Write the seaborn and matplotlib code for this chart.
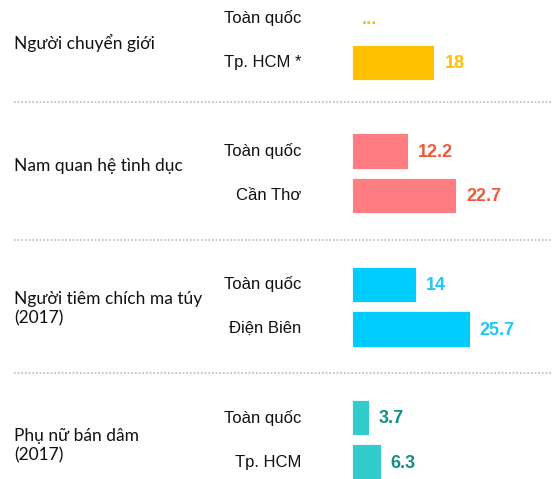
import matplotlib
matplotlib.use("Agg")
import matplotlib.pyplot as plt
import seaborn as sns
import pandas as pd
import numpy as np

groups = ["Người chuyển giới", "Nam quan hệ tình dục",
          "Người tiêm chích ma túy\n(2017)", "Phụ nữ bán dâm\n(2017)"]
sub_labels = [["Toàn quốc", "Tp. HCM *"], ["Toàn quốc", "Cần Thơ"],
              ["Toàn quốc", "Điện Biên"], ["Toàn quốc", "Tp. HCM"]]
values = [[np.nan, 18.0], [12.2, 22.7], [14.0, 25.7], [3.7, 6.3]]
value_texts = [["...", "18"], ["12.2", "22.7"], ["14", "25.7"], ["3.7", "6.3"]]
bar_colors = ["#FFC000", "#FF7C80", "#00CCFF", "#33CCCC"]
text_colors = ["#FFC000", "#F05A3C", "#1CC8F8", "#128F85"]
label_offsets = [0.56, 0.33, 0.55, 0.64]

# Build long table with spacer slots between groups
rows = []
order = []
for gi in range(len(groups)):
    for si in range(2):
        key = f"g{gi}s{si}"
        rows.append(dict(key=key, value=values[gi][si], grp=gi))
        order.append(key)
    if gi < len(groups) - 1:
        order.append(f"gap{gi}")
df = pd.DataFrame(rows)

W, H = 552, 479
fig = plt.figure(figsize=(W / 100, H / 100), dpi=100)
ax = fig.add_axes([0, 0, 1, 1])

palette = {f"g{gi}s{si}": bar_colors[gi] for gi in range(4) for si in range(2)}
sns.barplot(data=df, y="key", x="value", hue="key", order=order, palette=palette,
            orient="h", width=0.8, legend=False, ax=ax, errorbar=None,
            saturation=1, edgecolor="white", linewidth=0.6)

px_per_unit = 4.58
x0 = 352
ax.set_xlim(-x0 / px_per_unit, (W - x0) / px_per_unit)
slot_px = 44.4
ax.set_ylim(10 + (H - 462) / slot_px, -18 / slot_px)
ax.axis("off")

def px2x(p):
    return (p - x0) / px_per_unit

for gi in range(4):
    base = gi * 3
    for si in range(2):
        y = base + si
        v = values[gi][si]
        ax.text(px2x(301), y, sub_labels[gi][si], ha="right", va="center",
                fontsize=12, family=["Liberation Sans", "DejaVu Sans"],
                color="#111111")
        xv = 0 if np.isnan(v) else v
        ax.text(xv + 10 / px_per_unit, y + 0.03, value_texts[gi][si], ha="left",
                va="center", fontsize=13, fontweight="bold",
                family=["Liberation Sans", "DejaVu Sans"], color=text_colors[gi])
    ax.text(px2x(14), base + label_offsets[gi], groups[gi], ha="left", va="center",
            fontsize=12.5, family=["Lato", "DejaVu Sans"], color="#111111",
            linespacing=1.27)
    if gi < 3:
        ax.plot([px2x(14), px2x(W)], [base + 2 - (0.1 if gi == 0 else 0)] * 2,
                linestyle=(0, (1, 1.2)), color="#BBBBBB", linewidth=1.2)

fig.savefig("out.png", dpi=100)
